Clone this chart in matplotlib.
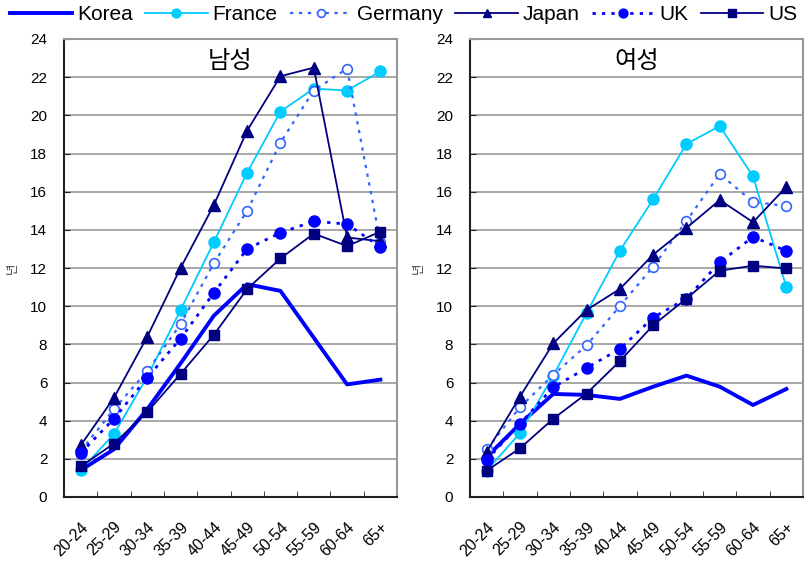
import numpy as np
import matplotlib
matplotlib.use("Agg")
import matplotlib.pyplot as plt
import matplotlib.transforms as mtransforms

plt.rcParams['font.family'] = ['Liberation Sans', 'Noto Sans CJK KR', 'DejaVu Sans']

ages = ['20-24', '25-29', '30-34', '35-39', '40-44', '45-49', '50-54', '55-59', '60-64', '65+']
countries = ['Korea', 'France', 'Germany', 'Japan', 'UK', 'US']

male = {
    'Korea':   [1.4, 2.5, 4.6, 7.0, 9.5, 11.15, 10.8, 8.35, 5.9, 6.15],
    'France':  [1.4, 3.3, 6.3, 9.8, 13.35, 17.0, 20.2, 21.4, 21.3, 22.3],
    'Germany': [2.4, 4.6, 6.6, 9.05, 12.25, 15.0, 18.57, 21.3, 22.45, 13.35],
    'Japan':   [2.7, 5.2, 8.4, 12.0, 15.3, 19.2, 22.05, 22.5, 13.6, 13.4],
    'UK':      [2.3, 4.1, 6.25, 8.3, 10.7, 13.0, 13.85, 14.45, 14.3, 13.1],
    'US':      [1.6, 2.8, 4.45, 6.45, 8.5, 10.9, 12.5, 13.8, 13.15, 13.9],
}
female = {
    'Korea':   [2.1, 3.83, 5.4, 5.35, 5.14, 5.78, 6.36, 5.78, 4.82, 5.66],
    'France':  [1.38, 3.35, 6.36, 9.64, 12.9, 15.6, 18.5, 19.44, 16.8, 11.0],
    'Germany': [2.5, 4.7, 6.4, 7.95, 10.0, 12.07, 14.46, 16.93, 15.46, 15.25],
    'Japan':   [2.36, 5.26, 8.05, 9.8, 10.9, 12.7, 14.1, 15.56, 14.4, 16.25],
    'UK':      [1.94, 3.83, 5.75, 6.76, 7.76, 9.4, 10.4, 12.3, 13.63, 12.9],
    'US':      [1.38, 2.55, 4.1, 5.42, 7.12, 9.0, 10.4, 11.86, 12.12, 11.98],
}

styles = {
    'Korea':   dict(color='#0000ff', lw=2.8, ls='-', marker=None),
    'France':  dict(color='#00ccff', lw=1.3, ls='-', marker='o', ms=8, mfc='#00ccff', mec='#00ccff'),
    'Germany': dict(color='#3366ff', lw=1.6, ls=(0, (1.5, 2.5)), marker='o', ms=7, mfc='white', mec='#3366ff', mew=1.2),
    'Japan':   dict(color='#000080', lw=1.3, ls='-', marker='^', ms=8, mfc='#000080', mec='#000080'),
    'UK':      dict(color='#0000ff', lw=2.0, ls=(0, (1.2, 2.2)), marker='o', ms=8, mfc='#0000ff', mec='#0000ff'),
    'US':      dict(color='#000080', lw=1.3, ls='-', marker='s', ms=7.5, mfc='#000080', mec='#000080'),
}

fig = plt.figure(figsize=(8.07, 5.63), dpi=100)
fig.set_facecolor('white')

W, H = 807.0, 563.0
ax1 = fig.add_axes([64 / W, (H - 497) / H, 333 / W, 458 / H])
ax2 = fig.add_axes([470 / W, (H - 497) / H, 333 / W, 458 / H])

x = np.arange(len(ages))
shift = mtransforms.ScaledTranslation(-0.16, 0.0, fig.dpi_scale_trans)
for ax, data, title in [(ax1, male, '남성'), (ax2, female, '여성')]:
    for c in countries:
        ax.plot(x, data[c], label=c, zorder=3, **styles[c])
    ax.set_xlim(-0.5, len(ages) - 0.5)
    ax.set_ylim(0, 24)
    ax.set_yticks(np.arange(0, 25, 2))
    ax.set_xticks(x)
    ax.set_xticklabels(ages, rotation=45, ha='right', rotation_mode='anchor', fontsize=11.5)
    for lab in ax.get_xticklabels():
        lab.set_transform(lab.get_transform() + shift)
    ax.set_xticks(np.arange(0.5, len(ages) - 1, 1), minor=True)
    ax.tick_params(axis='x', which='major', length=0, pad=16)
    ax.tick_params(axis='x', which='minor', direction='in', length=4, color='#222222')
    ax.tick_params(axis='y', direction='in', length=4, color='#222222', labelsize=11, pad=12)
    ax.grid(axis='y', color='#a0a0a0', lw=1.3, zorder=0)
    ax.set_axisbelow(True)
    for side, s in ax.spines.items():
        s.set_linewidth(1.5)
        s.set_color('#222222' if side in ('left', 'bottom') else '#999999')
    ax.set_ylabel('년', rotation=90, fontsize=9, color='#444444', labelpad=8)
    ax.text(0.5, 0.95, title, transform=ax.transAxes, ha='center', va='center', fontsize=17.5)

fig.legend(*ax1.get_legend_handles_labels(), loc='center', bbox_to_anchor=(0.5, 1 - 15 / H),
           ncol=6, frameon=False, fontsize=15, handlelength=3.0, columnspacing=0.58,
           handletextpad=0.24, borderpad=0, borderaxespad=0, markerscale=0.8)

fig.savefig('out.png', dpi=100)
